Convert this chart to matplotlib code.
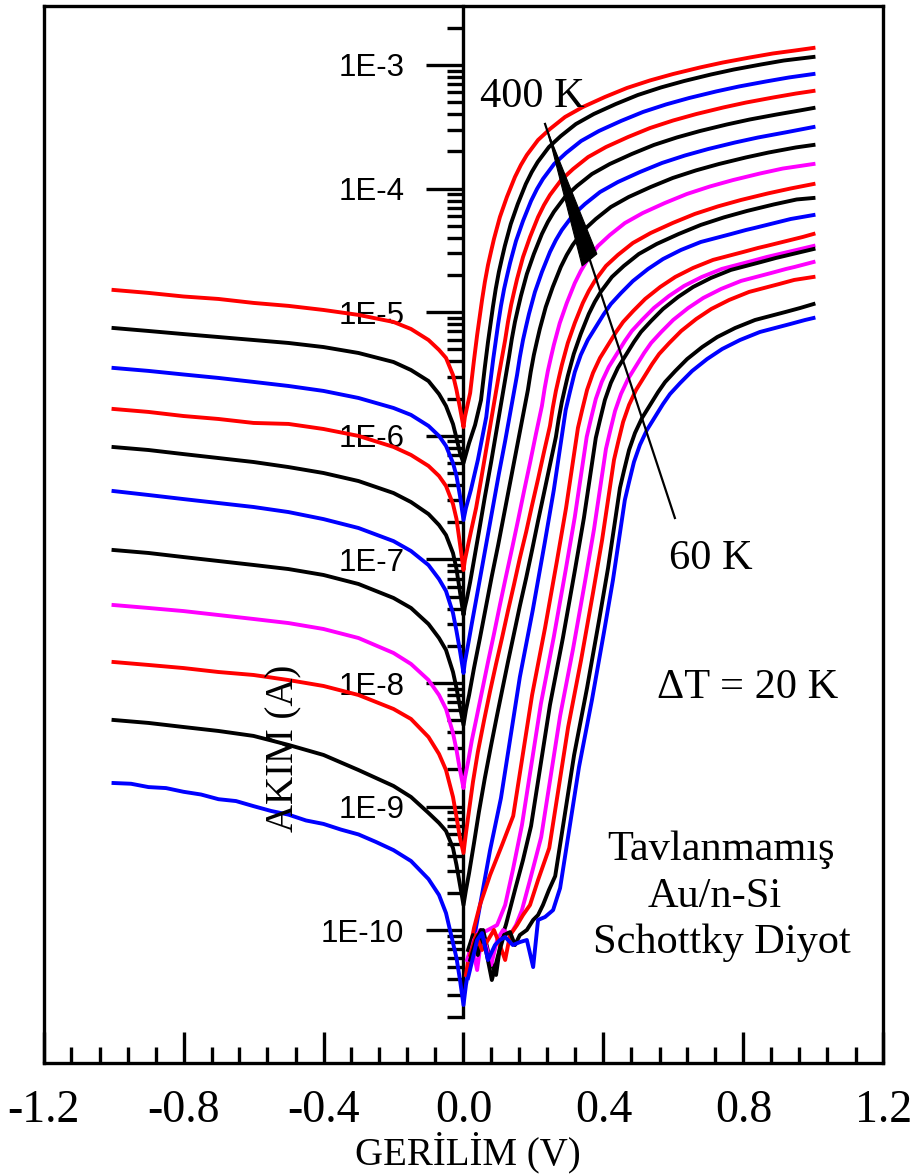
import numpy as np
import matplotlib
matplotlib.use("Agg")
import matplotlib.pyplot as plt
from matplotlib.patches import Polygon
from matplotlib.ticker import FixedLocator, FuncFormatter, NullFormatter

# ---------------- data (voltage in V, log10 of current in A) ----------------
V_REV = [-1.0, -0.9, -0.8, -0.7, -0.6, -0.5, -0.4, -0.3, -0.2, -0.15, -0.1,
         -0.07, -0.05, -0.03, -0.02, -0.01, 0.0]
V_REV_200 = [-1.0, -0.95, -0.9, -0.85, -0.8, -0.75, -0.7, -0.65, -0.6, -0.55, -0.5, -0.45, -0.4,
             -0.35, -0.3, -0.25, -0.2, -0.15, -0.1, -0.07, -0.05, -0.03, -0.02, -0.01, 0.0]

LOGI_REV_400 = [-4.820, -4.844, -4.873, -4.893, -4.925, -4.949, -4.982, -5.022, -5.079, -5.136, -5.225, -5.305, -5.370, -5.508, -5.629, -5.775, -5.929]
LOGI_REV_380 = [-5.128, -5.152, -5.177, -5.201, -5.225, -5.249, -5.282, -5.330, -5.403, -5.468, -5.557, -5.662, -5.759, -5.905, -6.018, -6.139, -6.220]
LOGI_REV_360 = [-5.451, -5.475, -5.504, -5.532, -5.564, -5.597, -5.637, -5.694, -5.775, -5.831, -5.920, -6.001, -6.082, -6.220, -6.325, -6.487, -6.681]
LOGI_REV_340 = [-5.783, -5.807, -5.840, -5.864, -5.896, -5.904, -5.945, -6.001, -6.090, -6.155, -6.244, -6.325, -6.406, -6.552, -6.673, -6.875, -7.086]
LOGI_REV_320 = [-6.091, -6.115, -6.148, -6.180, -6.212, -6.253, -6.301, -6.366, -6.463, -6.536, -6.633, -6.722, -6.803, -6.949, -7.078, -7.264, -7.450]
LOGI_REV_300 = [-6.447, -6.479, -6.512, -6.544, -6.576, -6.617, -6.674, -6.746, -6.852, -6.932, -7.046, -7.159, -7.256, -7.434, -7.580, -7.741, -7.919]
LOGI_REV_280 = [-6.924, -6.948, -6.981, -7.013, -7.045, -7.078, -7.126, -7.199, -7.312, -7.393, -7.523, -7.636, -7.733, -7.911, -8.041, -8.194, -8.340]
LOGI_REV_260 = [-7.369, -7.393, -7.418, -7.450, -7.482, -7.515, -7.563, -7.636, -7.757, -7.846, -7.976, -8.097, -8.210, -8.405, -8.542, -8.704, -8.850]
LOGI_REV_240 = [-7.830, -7.854, -7.879, -7.911, -7.935, -7.976, -8.024, -8.097, -8.210, -8.291, -8.437, -8.574, -8.704, -8.922, -9.084, -9.254, -9.375]
LOGI_REV_220 = [-8.299, -8.323, -8.356, -8.388, -8.428, -8.501, -8.582, -8.704, -8.833, -8.922, -9.051, -9.132, -9.197, -9.335, -9.472, -9.634, -9.796]
LOGI_REV_200 = [-8.809, -8.815, -8.842, -8.850, -8.880, -8.902, -8.940, -8.955, -8.996, -9.035, -9.065, -9.112, -9.140,
                -9.186, -9.225, -9.286, -9.352, -9.440, -9.586, -9.715, -9.861, -10.103, -10.225, -10.403, -10.605]

V_FWD_400 = [0.004, 0.019, 0.030, 0.039, 0.053, 0.061, 0.070, 0.079, 0.087, 0.104, 0.124, 0.147, 0.164, 0.181, 0.213, 0.247, 0.290, 0.341, 0.404, 0.467, 0.533, 0.599, 0.676, 0.741, 0.819, 0.884, 0.947, 1.0]
LOGI_FWD_400 = [-5.848, -5.654, -5.387, -5.184, -4.901, -4.756, -4.618, -4.505, -4.408, -4.230, -4.068, -3.906, -3.809, -3.728, -3.607, -3.518, -3.421, -3.340, -3.259, -3.186, -3.125, -3.073, -3.020, -2.980, -2.939, -2.907, -2.883, -2.862]

V_FWD_380 = [0.016, 0.033, 0.050, 0.061, 0.070, 0.084, 0.092, 0.101, 0.110, 0.118, 0.135, 0.155, 0.178, 0.195, 0.212, 0.244, 0.278, 0.321, 0.372, 0.435, 0.498, 0.564, 0.630, 0.707, 0.772, 0.850, 0.915, 1.0]
LOGI_FWD_380 = [-6.058, -5.913, -5.711, -5.444, -5.241, -4.958, -4.813, -4.675, -4.562, -4.465, -4.287, -4.125, -3.963, -3.866, -3.785, -3.664, -3.575, -3.478, -3.397, -3.316, -3.243, -3.182, -3.130, -3.077, -3.037, -2.996, -2.964, -2.935]

V_FWD_360 = [0.007, 0.021, 0.041, 0.065, 0.076, 0.085, 0.099, 0.107, 0.116, 0.125, 0.133, 0.150, 0.170, 0.193, 0.210, 0.227, 0.259, 0.293, 0.336, 0.387, 0.450, 0.513, 0.579, 0.645, 0.722, 0.787, 0.865, 0.930, 1.0]
LOGI_FWD_360 = [-6.584, -6.439, -6.196, -5.848, -5.581, -5.378, -5.095, -4.950, -4.812, -4.699, -4.602, -4.424, -4.262, -4.100, -4.003, -3.922, -3.801, -3.712, -3.615, -3.534, -3.453, -3.380, -3.319, -3.267, -3.214, -3.174, -3.133, -3.101, -3.073]

V_FWD_340 = [0.004, 0.010, 0.021, 0.036, 0.050, 0.067, 0.084, 0.101, 0.119, 0.127, 0.136, 0.145, 0.153, 0.170, 0.190, 0.213, 0.230, 0.247, 0.279, 0.313, 0.356, 0.407, 0.470, 0.533, 0.599, 0.665, 0.742, 0.807, 0.885, 0.950, 1.0]
LOGI_FWD_340 = [-7.005, -6.924, -6.778, -6.584, -6.358, -6.074, -5.791, -5.508, -5.225, -5.080, -4.942, -4.829, -4.732, -4.554, -4.392, -4.230, -4.133, -4.052, -3.931, -3.842, -3.745, -3.664, -3.583, -3.510, -3.449, -3.397, -3.344, -3.304, -3.263, -3.231, -3.210]

V_FWD_320 = [0.004, 0.010, 0.019, 0.030, 0.044, 0.061, 0.079, 0.096, 0.113, 0.130, 0.138, 0.147, 0.156, 0.164, 0.181, 0.201, 0.224, 0.241, 0.258, 0.290, 0.324, 0.367, 0.418, 0.481, 0.544, 0.610, 0.676, 0.753, 0.818, 0.896, 0.961, 1.0]
LOGI_FWD_320 = [-7.385, -7.312, -7.183, -7.005, -6.778, -6.495, -6.212, -5.929, -5.646, -5.362, -5.217, -5.079, -4.966, -4.869, -4.691, -4.529, -4.367, -4.270, -4.189, -4.068, -3.979, -3.882, -3.801, -3.720, -3.647, -3.586, -3.534, -3.481, -3.441, -3.400, -3.368, -3.348]

V_FWD_300 = [0.004, 0.013, 0.024, 0.036, 0.050, 0.067, 0.084, 0.101, 0.119, 0.136, 0.153, 0.161, 0.170, 0.179, 0.187, 0.204, 0.224, 0.247, 0.264, 0.281, 0.313, 0.347, 0.390, 0.441, 0.504, 0.567, 0.633, 0.699, 0.776, 0.841, 0.919, 1.0]
LOGI_FWD_300 = [-7.830, -7.692, -7.515, -7.329, -7.110, -6.843, -6.576, -6.309, -6.042, -5.775, -5.508, -5.363, -5.225, -5.112, -5.015, -4.837, -4.675, -4.513, -4.416, -4.335, -4.214, -4.125, -4.028, -3.947, -3.866, -3.793, -3.732, -3.680, -3.627, -3.587, -3.546, -3.502]

V_FWD_280 = [0.007, 0.016, 0.030, 0.047, 0.064, 0.081, 0.099, 0.116, 0.133, 0.150, 0.167, 0.184, 0.192, 0.201, 0.210, 0.218, 0.235, 0.255, 0.278, 0.295, 0.312, 0.344, 0.378, 0.421, 0.472, 0.535, 0.598, 0.664, 0.730, 0.807, 0.872, 0.950, 1.0]
LOGI_FWD_280 = [-8.218, -8.097, -7.879, -7.636, -7.385, -7.134, -6.884, -6.633, -6.382, -6.131, -5.880, -5.629, -5.484, -5.346, -5.233, -5.136, -4.958, -4.796, -4.634, -4.537, -4.456, -4.335, -4.246, -4.149, -4.068, -3.987, -3.914, -3.853, -3.801, -3.748, -3.708, -3.667, -3.647]

V_FWD_260 = [0.004, 0.013, 0.024, 0.036, 0.053, 0.070, 0.087, 0.104, 0.121, 0.139, 0.156, 0.173, 0.190, 0.207, 0.224, 0.232, 0.241, 0.250, 0.258, 0.275, 0.295, 0.318, 0.335, 0.352, 0.384, 0.418, 0.461, 0.512, 0.575, 0.638, 0.704, 0.770, 0.847, 0.912, 1.0]
LOGI_FWD_260 = [-8.769, -8.639, -8.461, -8.299, -8.065, -7.830, -7.604, -7.369, -7.142, -6.908, -6.681, -6.447, -6.220, -5.985, -5.759, -5.614, -5.476, -5.363, -5.266, -5.088, -4.926, -4.764, -4.667, -4.586, -4.465, -4.376, -4.279, -4.198, -4.117, -4.044, -3.983, -3.931, -3.878, -3.838, -3.801]

V_FWD_240 = [0.007, 0.016, 0.027, 0.041, 0.059, 0.076, 0.093, 0.110, 0.127, 0.144, 0.161, 0.179, 0.196, 0.213, 0.230, 0.247, 0.255, 0.264, 0.273, 0.281, 0.298, 0.318, 0.341, 0.358, 0.375, 0.407, 0.441, 0.484, 0.535, 0.598, 0.661, 0.727, 0.793, 0.870, 0.935, 1.0]
LOGI_FWD_240 = [-9.214, -9.028, -8.801, -8.558, -8.299, -8.065, -7.846, -7.636, -7.417, -7.207, -6.989, -6.778, -6.560, -6.350, -6.131, -5.920, -5.775, -5.637, -5.524, -5.427, -5.249, -5.087, -4.925, -4.828, -4.747, -4.626, -4.537, -4.440, -4.359, -4.278, -4.205, -4.144, -4.092, -4.039, -3.999, -3.963]

V_FWD_220 = [0.007, 0.016, 0.030, 0.044, 0.061, 0.079, 0.096, 0.110, 0.127, 0.144, 0.161, 0.179, 0.196, 0.213, 0.230, 0.247, 0.264, 0.272, 0.281, 0.290, 0.298, 0.315, 0.335, 0.358, 0.375, 0.392, 0.424, 0.458, 0.501, 0.552, 0.615, 0.678, 0.744, 0.810, 0.887, 0.952, 1.0]
LOGI_FWD_220 = [-9.675, -9.537, -9.295, -9.044, -8.769, -8.502, -8.259, -8.065, -7.830, -7.604, -7.377, -7.151, -6.924, -6.689, -6.463, -6.236, -6.009, -5.864, -5.726, -5.613, -5.516, -5.338, -5.176, -5.014, -4.917, -4.836, -4.715, -4.626, -4.529, -4.448, -4.367, -4.294, -4.233, -4.181, -4.128, -4.088, -4.076]

V_FWD_200 = [0.007, 0.024, 0.050, 0.076, 0.107, 0.161, 0.198, 0.232, 0.258, 0.292, 0.304, 0.318, 0.335, 0.355, 0.378, 0.401, 0.421, 0.450, 0.484, 0.527, 0.570, 0.621, 0.678, 0.721, 0.764, 0.807, 0.831, 0.935, 1.0]
LOGI_FWD_200 = [-10.443, -10.160, -9.756, -9.351, -8.931, -7.952, -7.409, -6.867, -6.439, -5.791, -5.646, -5.484, -5.346, -5.225, -5.120, -5.015, -4.934, -4.845, -4.748, -4.651, -4.570, -4.497, -4.432, -4.400, -4.368, -4.335, -4.319, -4.246, -4.214]

V_FWD_180 = [0.007, 0.019, 0.030, 0.047, 0.076, 0.110, 0.142, 0.196, 0.233, 0.267, 0.293, 0.327, 0.339, 0.353, 0.370, 0.390, 0.413, 0.436, 0.456, 0.485, 0.519, 0.562, 0.605, 0.656, 0.713, 0.756, 0.799, 0.842, 0.866, 0.970, 1.0]
LOGI_FWD_180 = [-10.362, -10.144, -9.982, -9.796, -9.553, -9.311, -9.076, -8.097, -7.554, -7.012, -6.584, -5.936, -5.791, -5.629, -5.491, -5.370, -5.265, -5.160, -5.079, -4.990, -4.893, -4.796, -4.715, -4.642, -4.577, -4.545, -4.513, -4.480, -4.464, -4.391, -4.367]

V_FWD_160 = [0.010, 0.024, 0.039, 0.053, 0.070, 0.096, 0.119, 0.141, 0.167, 0.221, 0.258, 0.292, 0.318, 0.352, 0.364, 0.378, 0.395, 0.415, 0.438, 0.461, 0.481, 0.510, 0.544, 0.587, 0.630, 0.681, 0.738, 0.781, 0.824, 0.867, 0.891, 1.0]
LOGI_FWD_160 = [-10.241, -10.120, -10.322, -10.023, -9.998, -9.958, -9.796, -9.513, -9.149, -8.170, -7.627, -7.085, -6.657, -6.009, -5.864, -5.702, -5.564, -5.443, -5.338, -5.233, -5.152, -5.063, -4.966, -4.869, -4.788, -4.715, -4.650, -4.618, -4.586, -4.553, -4.537, -4.464]

V_FWD_140 = [0.013, 0.027, 0.041, 0.056, 0.076, 0.093, 0.107, 0.121, 0.147, 0.170, 0.193, 0.247, 0.284, 0.318, 0.344, 0.378, 0.390, 0.404, 0.421, 0.441, 0.464, 0.487, 0.507, 0.536, 0.570, 0.613, 0.656, 0.707, 0.764, 0.807, 0.850, 0.893, 0.917, 1.0]
LOGI_FWD_140 = [-10.160, -10.039, -10.201, -9.998, -10.241, -10.362, -10.079, -9.958, -9.675, -9.432, -9.157, -8.178, -7.635, -7.093, -6.665, -6.017, -5.872, -5.710, -5.572, -5.451, -5.346, -5.241, -5.160, -5.071, -4.974, -4.877, -4.796, -4.723, -4.658, -4.626, -4.594, -4.561, -4.545, -4.489]

V_FWD_120 = [0.016, 0.030, 0.047, 0.064, 0.079, 0.096, 0.113, 0.133, 0.150, 0.167, 0.190, 0.222, 0.276, 0.313, 0.347, 0.373, 0.407, 0.419, 0.433, 0.450, 0.470, 0.493, 0.516, 0.536, 0.565, 0.599, 0.642, 0.685, 0.736, 0.793, 0.836, 0.879, 0.922, 0.946, 1.0]
LOGI_FWD_120 = [-10.241, -10.079, -9.998, -10.120, -10.282, -10.079, -9.998, -10.039, -9.958, -9.837, -9.594, -9.246, -8.267, -7.724, -7.182, -6.754, -6.106, -5.961, -5.799, -5.661, -5.540, -5.435, -5.330, -5.249, -5.160, -5.063, -4.966, -4.885, -4.812, -4.747, -4.715, -4.683, -4.650, -4.634, -4.594]

V_FWD_100 = [0.019, 0.036, 0.053, 0.070, 0.087, 0.104, 0.119, 0.133, 0.153, 0.170, 0.190, 0.213, 0.245, 0.299, 0.336, 0.370, 0.396, 0.430, 0.442, 0.456, 0.473, 0.493, 0.516, 0.539, 0.559, 0.588, 0.622, 0.665, 0.708, 0.759, 0.816, 0.859, 0.902, 0.945, 1.0]
LOGI_FWD_100 = [-10.201, -10.039, -10.160, -10.079, -9.998, -10.120, -10.241, -10.039, -9.958, -9.877, -9.796, -9.594, -9.335, -8.356, -7.813, -7.271, -6.843, -6.195, -6.050, -5.888, -5.750, -5.629, -5.524, -5.419, -5.338, -5.249, -5.152, -5.055, -4.974, -4.901, -4.836, -4.804, -4.772, -4.739, -4.715]

V_FWD_80 = [0.019, 0.036, 0.050, 0.064, 0.081, 0.099, 0.116, 0.133, 0.147, 0.161, 0.181, 0.199, 0.213, 0.227, 0.244, 0.262, 0.316, 0.353, 0.387, 0.413, 0.447, 0.459, 0.473, 0.490, 0.510, 0.533, 0.556, 0.576, 0.605, 0.639, 0.682, 0.725, 0.776, 0.833, 0.876, 0.919, 0.962, 1.0]
LOGI_FWD_80 = [-10.241, -10.079, -9.998, -10.160, -10.403, -10.201, -10.039, -10.015, -10.120, -10.039, -9.998, -9.917, -9.877, -9.796, -9.675, -9.562, -8.583, -8.040, -7.498, -7.070, -6.422, -6.277, -6.115, -5.977, -5.856, -5.751, -5.646, -5.565, -5.476, -5.379, -5.282, -5.201, -5.128, -5.063, -5.031, -4.999, -4.966, -4.934]

V_FWD_60 = [0.013, 0.039, 0.053, 0.070, 0.090, 0.104, 0.119, 0.141, 0.161, 0.181, 0.199, 0.213, 0.233, 0.256, 0.276, 0.330, 0.367, 0.401, 0.427, 0.461, 0.473, 0.487, 0.504, 0.524, 0.547, 0.570, 0.590, 0.619, 0.653, 0.696, 0.739, 0.790, 0.847, 0.890, 0.933, 0.976, 1.0]
LOGI_FWD_60 = [-10.387, -10.079, -10.023, -10.241, -10.120, -10.079, -10.055, -10.120, -10.096, -10.079, -10.298, -9.917, -9.893, -9.837, -9.659, -8.680, -8.137, -7.595, -7.167, -6.519, -6.374, -6.212, -6.074, -5.953, -5.848, -5.743, -5.662, -5.573, -5.476, -5.379, -5.298, -5.225, -5.160, -5.128, -5.096, -5.063, -5.047]

TEMPERATURES = [400, 380, 360, 340, 320, 300, 280, 260, 240, 220, 200, 180, 160, 140, 120, 100, 80, 60]
COLORS = ["#ff0000", "#000000", "#0000ff", "#ff0000", "#000000", "#0000ff", "#000000", "#ff00ff", "#ff0000",
          "#000000", "#0000ff", "#ff0000", "#ff00ff", "#000000", "#ff00ff", "#ff0000", "#000000", "#0000ff"]

X_TICKS = [-1.2, -0.8, -0.4, 0.0, 0.4, 0.8, 1.2]

# arrow (from "400 K" to "60 K") in data units
ARROW_V = [0.233, 0.604]
ARROW_LOGI = [-3.477, -6.665]
WEDGE_V = [0.241, 0.339, 0.381]
WEDGE_LOGI = [-3.542, -4.626, -4.529]

# ---------------- assemble ----------------
REVERSE = {400: (V_REV, LOGI_REV_400), 380: (V_REV, LOGI_REV_380), 360: (V_REV, LOGI_REV_360),
           340: (V_REV, LOGI_REV_340), 320: (V_REV, LOGI_REV_320), 300: (V_REV, LOGI_REV_300),
           280: (V_REV, LOGI_REV_280), 260: (V_REV, LOGI_REV_260), 240: (V_REV, LOGI_REV_240),
           220: (V_REV, LOGI_REV_220), 200: (V_REV_200, LOGI_REV_200)}
FORWARD = {400: (V_FWD_400, LOGI_FWD_400), 380: (V_FWD_380, LOGI_FWD_380),
           360: (V_FWD_360, LOGI_FWD_360), 340: (V_FWD_340, LOGI_FWD_340),
           320: (V_FWD_320, LOGI_FWD_320), 300: (V_FWD_300, LOGI_FWD_300),
           280: (V_FWD_280, LOGI_FWD_280), 260: (V_FWD_260, LOGI_FWD_260),
           240: (V_FWD_240, LOGI_FWD_240), 220: (V_FWD_220, LOGI_FWD_220),
           200: (V_FWD_200, LOGI_FWD_200), 180: (V_FWD_180, LOGI_FWD_180),
           160: (V_FWD_160, LOGI_FWD_160), 140: (V_FWD_140, LOGI_FWD_140),
           120: (V_FWD_120, LOGI_FWD_120), 100: (V_FWD_100, LOGI_FWD_100),
           80: (V_FWD_80, LOGI_FWD_80), 60: (V_FWD_60, LOGI_FWD_60)}

plt.rcParams["axes.unicode_minus"] = False
SERIF = ["Liberation Serif", "DejaVu Serif"]
SANS = ["Liberation Sans", "DejaVu Sans"]

W, H = 918, 1176
fig = plt.figure(figsize=(W / 100, H / 100), dpi=100)
ax = fig.add_axes([43.5 / W, 1 - 1063 / H, 840 / W, (1063 - 6) / H])

for T, col in zip(TEMPERATURES, COLORS):
    vf, lf = FORWARD[T]
    n = min(len(vf), len(lf))
    v, lg = list(vf[:n]), list(lf[:n])
    if T in REVERSE:
        vr, lr = REVERSE[T]
        m = min(len(vr), len(lr))
        v = list(vr[:m]) + v
        lg = list(lr[:m]) + lg
    ax.plot(v, 10.0 ** np.array(lg), color=col, lw=2.8, solid_joinstyle="round", zorder=3)

ax.set_xlim(-1.2, 1.2)
ax.set_yscale("log")
ax.set_ylim(8.43e-12, 3.0e-3)

# x axis
ax.xaxis.set_major_locator(FixedLocator(X_TICKS))
ax.xaxis.set_minor_locator(FixedLocator([round(-1.2 + 0.08 * i, 2) for i in range(31)]))
ax.xaxis.set_major_formatter(FuncFormatter(lambda v, p: f"{v:.1f}"))
ax.tick_params(axis="x", which="both", direction="in", bottom=True, top=False, width=2.4,
               labelsize=33, pad=19, labelfontfamily=SERIF)
ax.tick_params(axis="x", which="major", length=22)
ax.tick_params(axis="x", which="minor", length=11.5)

# y axis through V = 0
major_y = [10.0 ** k for k in range(-10, -2)]
minor_y = [m * 10.0 ** k for k in range(-11, -2) for m in range(2, 10)]
minor_y = [y for y in minor_y if 1.9e-11 <= y <= 2.5e-3]
ax.yaxis.set_major_locator(FixedLocator(major_y))
ax.yaxis.set_minor_locator(FixedLocator(minor_y))
ax.yaxis.set_major_formatter(FuncFormatter(lambda v, p: f"1E{int(round(np.log10(v)))}"))
ax.yaxis.set_minor_formatter(NullFormatter())
ax.tick_params(axis="y", which="both", direction="out", left=True, right=False, width=2.4)
ax.tick_params(axis="y", which="major", length=26.6, labelsize=22.5, pad=16, labelfontfamily=SANS)
ax.tick_params(axis="y", which="minor", length=11.5)

for s in ["top", "right", "bottom"]:
    ax.spines[s].set_linewidth(2.4)
ax.spines["left"].set_position(("data", 0.0))
ax.spines["left"].set_linewidth(2.4)
ax.spines["left"].set_bounds(2e-11, 3.0e-3)
ax.axvline(-1.2, color="black", lw=2.4, clip_on=False, zorder=5)

# arrow
ax.plot(ARROW_V, 10.0 ** np.array(ARROW_LOGI), color="black", lw=1.6, zorder=4)
ax.add_patch(Polygon(list(zip(WEDGE_V, 10.0 ** np.array(WEDGE_LOGI))), closed=True,
                     facecolor="black", edgecolor="black", lw=0.8, zorder=4))

# texts
def ftext(px, py, s, **kw):
    fig.text(px / W, 1 - py / H, s, fontfamily=SERIF, **kw)

ftext(468, 1164, "GERİLİM (V)", fontsize=28, ha="center", va="baseline")
ftext(284, 748, "AKIM (A)", fontsize=28, ha="center", va="center", rotation=90)
ftext(480, 107, "400 K", fontsize=30.5, ha="left", va="baseline")
ftext(669, 569, "60 K", fontsize=30.5, ha="left", va="baseline")
ftext(657, 698, "ΔT = 20 K", fontsize=30.5, ha="left", va="baseline")
ftext(721, 860, "Tavlanmamış", fontsize=30.5, ha="center", va="baseline")
ftext(715, 907, "Au/n-Si", fontsize=30.5, ha="center", va="baseline")
ftext(722, 953, "Schottky Diyot", fontsize=30.5, ha="center", va="baseline")

fig.savefig("out.png", dpi=100)
